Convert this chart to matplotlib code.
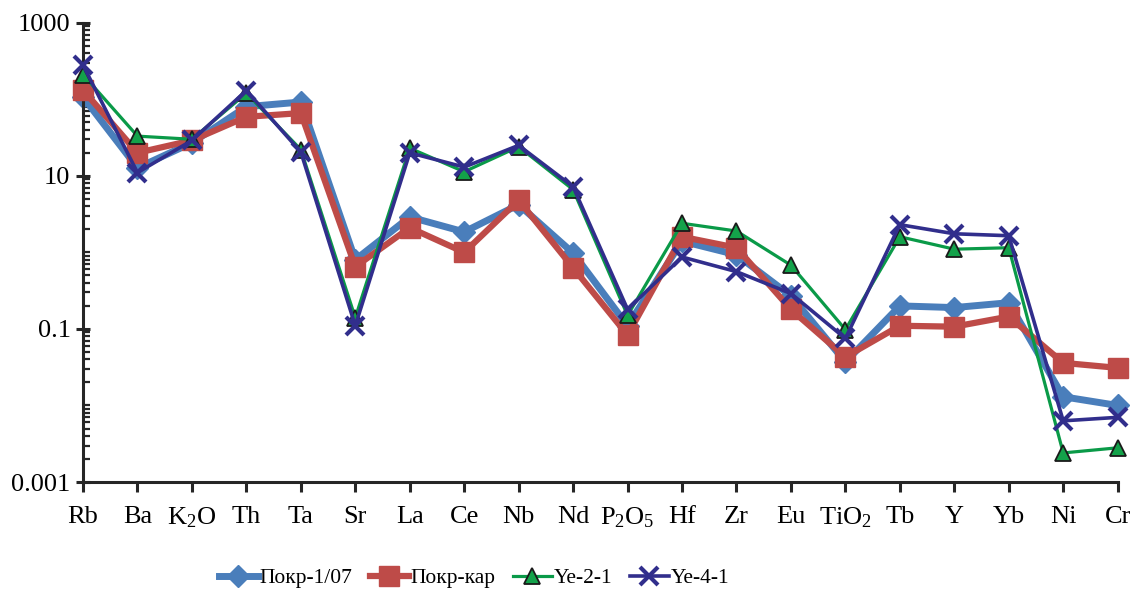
import numpy as np
import matplotlib.pyplot as plt
from matplotlib.ticker import LogLocator, NullFormatter, FixedLocator

plt.rcParams['font.family'] = ['Liberation Serif', 'DejaVu Serif']
plt.rcParams['mathtext.fontset'] = 'custom'
plt.rcParams['mathtext.rm'] = 'Liberation Serif'
plt.rcParams['mathtext.it'] = 'Liberation Serif'
plt.rcParams['mathtext.default'] = 'regular'

# element labels along x axis
elements = ['Rb', 'Ba', 'K$_2$O', 'Th', 'Ta', 'Sr', 'La', 'Ce', 'Nb', 'Nd',
            'P$_2$O$_5$', 'Hf', 'Zr', 'Eu', 'TiO$_2$', 'Tb', 'Y', 'Yb', 'Ni', 'Cr']

# normalised concentrations
pokr_107 = [107, 12.7, 27, 80, 92, 0.8, 2.9, 1.85, 4.2, 0.98,
            0.11, 1.4, 0.93, 0.27, 0.037, 0.2, 0.19, 0.22, 0.013, 0.010]
pokr_kar = [132, 20, 29, 59, 66, 0.65, 2.1, 1.0, 4.8, 0.63,
            0.083, 1.6, 1.15, 0.18, 0.043, 0.11, 0.107, 0.145, 0.036, 0.031]
ye_2_1 = [210, 33, 30, 120, 22, 0.14, 23, 11.3, 24, 6.6,
          0.15, 2.4, 1.9, 0.68, 0.098, 1.6, 1.1, 1.15, 0.0024, 0.0028]
ye_4_1 = [280, 11, 29, 130, 20.5, 0.11, 20, 13, 25, 7.2,
          0.18, 0.87, 0.56, 0.29, 0.075, 2.3, 1.75, 1.65, 0.0063, 0.0070]

x = np.arange(len(elements))

fig = plt.figure(figsize=(11.37, 5.9), dpi=100)
ax = fig.add_axes([0.073, 0.183, 0.910, 0.7785])

l1, = ax.plot(x, pokr_107, color='#4a7ebb', lw=5, marker='D', ms=11,
              mfc='#4a7ebb', mec='#4a7ebb', label='Покр-1/07', zorder=2,
              clip_on=False)
l2, = ax.plot(x, pokr_kar, color='#be4b48', lw=4.5, marker='s', ms=14,
              mfc='#be4b48', mec='#be4b48', label='Покр-кар', zorder=3,
              clip_on=False)
l3, = ax.plot(x, ye_2_1, color='#0a9a48', lw=2.3, marker='^', ms=12,
              mfc='#13a24a', mec='#1a1a1a', mew=1.3, label='Ye-2-1', zorder=4,
              clip_on=False)
l4, = ax.plot(x, ye_4_1, color='#312e8c', lw=2.6, marker='x', ms=13,
              mew=3, label='Ye-4-1', zorder=5, clip_on=False)

ax.set_yscale('log')
ax.set_ylim(0.001, 1000)
ax.set_xlim(0, len(elements) - 1)

ax.yaxis.set_major_locator(FixedLocator([0.001, 0.1, 10, 1000]))
ax.yaxis.set_minor_locator(LogLocator(base=10, subs=np.arange(1, 10), numticks=50))
ax.yaxis.set_minor_formatter(NullFormatter())
ax.set_yticklabels(['0.001', '0.1', '10', '1000'])

ax.set_xticks(x)
ax.set_xticklabels(elements)

for s in ['top', 'right']:
    ax.spines[s].set_visible(False)
for s in ['left', 'bottom']:
    ax.spines[s].set_linewidth(2.2)
    ax.spines[s].set_color('#262626')

ax.tick_params(axis='y', which='major', direction='inout', length=10, width=2.2,
               color='#262626', labelsize=19, pad=4)
ax.tick_params(axis='y', which='minor', direction='in', length=5, width=1.6,
               color='#262626')
ax.tick_params(axis='x', which='major', direction='out', length=7, width=2.2,
               color='#262626', labelsize=19, pad=10)
ax.tick_params(axis='x', which='minor', bottom=False)

fig.legend(handles=[l1, l2, l3, l4], loc='center', bbox_to_anchor=(0.417, 0.02),
           ncol=4, frameon=False, fontsize=15.5, handlelength=1.8,
           handletextpad=0.1, columnspacing=0.8, borderaxespad=0)

fig.savefig('out.png', dpi=100)
